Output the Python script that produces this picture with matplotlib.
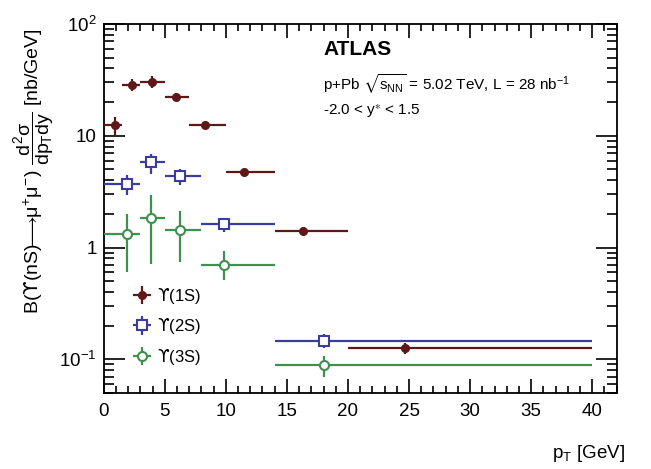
import numpy as np
import matplotlib
matplotlib.use("Agg")
import matplotlib.pyplot as plt
from matplotlib.ticker import MultipleLocator, LogLocator, NullFormatter
from matplotlib.legend_handler import HandlerErrorbar
from matplotlib.container import ErrorbarContainer

plt.rcParams['font.family'] = ['Liberation Sans', 'DejaVu Sans']
plt.rcParams['mathtext.fontset'] = 'custom'
plt.rcParams['mathtext.rm'] = 'Liberation Sans'
plt.rcParams['mathtext.it'] = 'Liberation Sans'
plt.rcParams['mathtext.bf'] = 'Liberation Sans:bold'
plt.rcParams['mathtext.sf'] = 'DejaVu Sans'
plt.rcParams['mathtext.fallback'] = 'stixsans'

# ---- data ----
labels = [r'$\mathsf{ϒ}$(1S)', r'$\mathsf{ϒ}$(2S)', r'$\mathsf{ϒ}$(3S)']

x1 = [0.93, 2.3, 3.95, 5.9, 8.3, 11.5, 16.3, 24.7]
edges1 = [0, 1.5, 3, 5, 7, 10, 14, 20, 40]
y1 = [12.4, 28.4, 30.4, 22.3, 12.4, 4.73, 1.42, 0.126]
y1_lo = [10.1, 25.3, 27.0, 20.5, 11.4, 4.42, 1.33, 0.111]
y1_hi = [14.7, 31.9, 34.2, 24.2, 13.5, 5.08, 1.52, 0.141]

x23 = [1.9, 3.9, 6.25, 9.86, 18.06]
edges23 = [0, 3, 5, 8, 14, 40]
y2 = [3.73, 5.82, 4.33, 1.61, 0.147]
y2_lo = [2.93, 4.58, 3.60, 1.37, 0.126]
y2_hi = [4.42, 6.92, 5.08, 1.81, 0.168]

y3 = [1.33, 1.83, 1.44, 0.70, 0.089]
y3_lo = [0.60, 0.71, 0.74, 0.51, 0.070]
y3_hi = [2.00, 2.93, 2.12, 0.94, 0.107]

c1 = '#5e1818'
c2 = '#3c3ca0'
c3 = '#3f8f4f'

fig = plt.figure(figsize=(6.51, 4.69), dpi=100)
ax = fig.add_axes([103.7/651, 1-393/469, 513/651, 369/469])

def draw(x, edges, y, lo, hi, color, marker, ms, mfc, label, z):
    x = np.asarray(x); y = np.asarray(y)
    e = np.asarray(edges)
    xerr = [x - e[:-1], e[1:] - x]
    yerr = [y - np.asarray(lo), np.asarray(hi) - y]
    return ax.errorbar(x, y, xerr=xerr, yerr=yerr, fmt=marker, color=color,
                       ms=ms, mfc=mfc, mec=color, mew=1.5, elinewidth=1.6,
                       capsize=0, label=label, zorder=z)

h1 = draw(x1, edges1, y1, y1_lo, y1_hi, c1, 'o', 5, c1, labels[0], 5)
h2 = draw(x23, edges23, y2, y2_lo, y2_hi, c2, 's', 6.5, 'white', labels[1], 4)
h3 = draw(x23, edges23, y3, y3_lo, y3_hi, c3, 'o', 6.5, 'white', labels[2], 3)

ax.set_yscale('log')
ax.set_xlim(0, 42)
ax.set_ylim(0.05, 100)

ax.xaxis.set_major_locator(MultipleLocator(5))
ax.xaxis.set_minor_locator(MultipleLocator(1))
ax.set_yticks([0.1, 1, 10, 100])
ax.set_yticklabels([r'$10^{-1}$', '1', '10', r'$10^{2}$'])
ax.yaxis.set_minor_locator(LogLocator(base=10, subs=np.arange(2, 10)))
ax.yaxis.set_minor_formatter(NullFormatter())

ax.tick_params(which='both', direction='in', top=True, right=True, labelsize=13.5, width=1.2)
ax.tick_params(axis='x', which='major', length=10, pad=7)
ax.tick_params(axis='x', which='minor', length=5)
ax.tick_params(axis='y', which='major', length=15, pad=5)
ax.tick_params(axis='y', which='minor', length=7)
for s in ax.spines.values():
    s.set_linewidth(1.3)

ax.text(1.016, -0.163, r'p$_{T}$ [GeV]', transform=ax.transAxes, ha='right', va='center', fontsize=13.5)
ax.text(-0.136, 0.60,
        r'B($\mathsf{ϒ}$(nS)$\!\!\longrightarrow\!\!\mu^{+}\mu^{-}$) $\dfrac{d^{2}\sigma}{dp_{T}dy}$ [nb/GeV]',
        transform=ax.transAxes, rotation=90, ha='center', va='center', fontsize=14)

ax.text(0.4275, 0.932, 'ATLAS', transform=ax.transAxes, ha='left', va='center',
        fontsize=15, fontweight='bold')
ax.text(0.4275, 0.838, r'p+Pb $\sqrt{s_{NN}}$ = 5.02 TeV, L = 28 nb$^{-1}$', transform=ax.transAxes,
        ha='left', va='center', fontsize=11)
ax.text(0.4275, 0.763, r'-2.0 < y$^{\ast}$ < 1.5', transform=ax.transAxes,
        ha='left', va='center', fontsize=11)

leg = ax.legend(handles=[h1, h2, h3], loc='upper left', bbox_to_anchor=(0.0546, 0.2900),
                frameon=False, fontsize=12, borderpad=0, borderaxespad=0,
                handlelength=1.2, handletextpad=0.3, labelspacing=0.62,
                handler_map={ErrorbarContainer: HandlerErrorbar(xerr_size=0.55, yerr_size=0.55)})

fig.savefig('out.png', dpi=100)
